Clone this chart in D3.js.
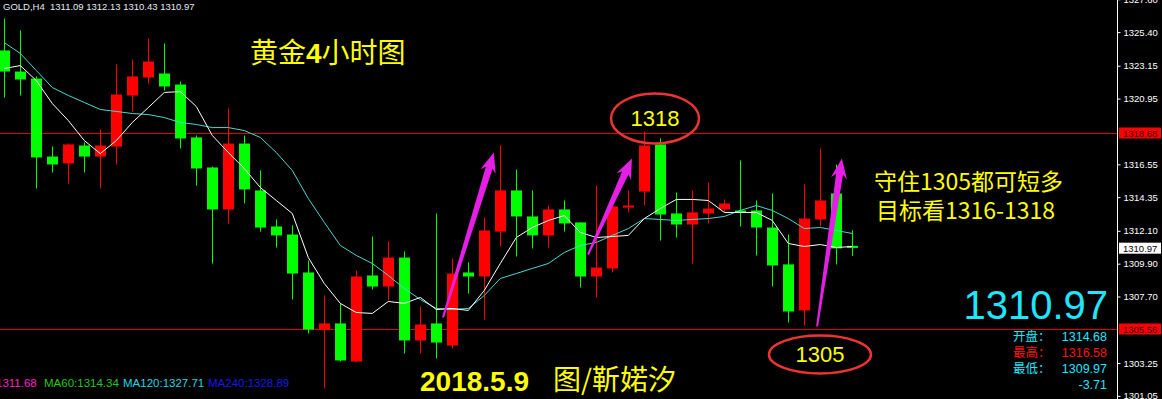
<!DOCTYPE html>
<html>
<head>
<meta charset="utf-8">
<script src="https://cdn.jsdelivr.net/npm/d3@7.9.0/dist/d3.min.js"></script>
<style>
  html, body { margin: 0; padding: 0; background: #000; }
  svg { display: block; }
  text { font-family: "Liberation Sans", Arial, sans-serif; }
  .cjk { font-family: "Noto Sans CJK SC", sans-serif; }
</style>
</head>
<body>
<svg id="chart" width="1162" height="399"></svg>
<script>
// candle data (open / high / low / close)
const opens = [1324.17,1322.76,1322.29,1317.07,1316.61,1317.81,1317.07,1317.74,1321.16,1322.36,
  1322.63,1321.89,1318.35,1316.34,1313.53,1317.94,1314.80,1312.39,1311.85,1309.31,
  1305.49,1305.90,1303.35,1309.11,1308.37,1310.31,1304.76,1305.90,1304.42,1309.31,
  1309.04,1312.05,1314.80,1313.06,1311.79,1313.53,1312.66,1309.04,1309.58,1313.66,
  1314.73,1317.88,1313.26,1312.52,1313.26,1313.53,1313.46,1313.46,1312.32,1309.85,
  1306.77,1312.86,1314.60,1311.09];
const highs = [1326.31,1325.51,1322.43,1317.74,1317.94,1318.01,1318.88,1323.23,1323.57,1324.97,
  1324.64,1322.09,1318.48,1316.40,1320.29,1318.48,1316.14,1312.86,1312.46,1310.11,
  1307.77,1307.24,1309.44,1311.72,1311.38,1310.72,1307.03,1313.26,1310.25,1309.98,
  1312.99,1317.81,1316.20,1314.80,1313.79,1314.13,1312.66,1315.13,1313.73,1314.80,
  1318.75,1318.28,1314.66,1314.80,1315.33,1314.20,1316.81,1314.13,1314.60,1311.85,
  1315.20,1317.61,1316.54,1312.13];
const lows = [1321.02,1321.16,1314.93,1316.00,1315.27,1316.00,1314.93,1316.54,1320.09,1321.96,
  1321.49,1317.61,1315.13,1309.91,1312.59,1313.93,1312.05,1310.98,1307.50,1305.23,
  1301.55,1303.35,1303.30,1308.17,1307.44,1303.89,1303.89,1303.55,1304.22,1307.90,
  1306.16,1311.05,1310.38,1310.92,1310.98,1312.05,1308.31,1307.64,1309.31,1313.33,
  1313.79,1311.45,1311.65,1309.91,1312.59,1313.33,1312.39,1310.45,1308.37,1305.96,
  1305.76,1312.39,1309.85,1310.43];
const closes = [1322.76,1322.23,1317.01,1316.54,1317.88,1317.07,1317.81,1321.22,1322.43,1323.43,
  1321.76,1318.28,1316.27,1313.53,1317.94,1314.87,1312.32,1311.79,1309.24,1305.49,
  1305.90,1303.42,1309.04,1308.37,1310.31,1304.76,1305.83,1304.62,1309.24,1309.04,
  1312.12,1314.80,1313.06,1311.79,1313.53,1312.59,1309.04,1309.64,1313.73,1313.79,
  1317.81,1313.19,1312.52,1313.33,1313.59,1313.93,1313.33,1312.32,1309.78,1306.70,
  1312.92,1314.13,1310.92,1310.97];

// moving averages
const maFast = [1322.96,1323.16,1322.16,1320.62,1319.48,1318.14,1317.27,1318.14,1319.35,1320.35,
  1321.36,1321.42,1320.42,1318.48,1317.34,1316.27,1315.00,1314.13,1313.26,1310.31,
  1308.57,1307.24,1306.63,1306.57,1307.37,1307.24,1307.64,1306.83,1306.90,1306.77,
  1308.11,1309.91,1311.65,1312.32,1312.79,1313.12,1311.99,1311.65,1311.72,1311.79,
  1312.92,1313.59,1314.20,1314.20,1314.13,1313.33,1313.33,1313.33,1312.79,1311.25,
  1311.05,1311.18,1310.98,1311.05];
const maSlow = [1324.70,1323.97,1322.83,1321.69,1321.16,1320.69,1320.22,1320.09,1319.95,1319.88,
  1319.68,1319.35,1319.22,1319.01,1319.01,1318.81,1318.35,1317.34,1316.14,1314.26,
  1312.66,1311.12,1310.45,1309.91,1309.11,1308.24,1307.50,1306.90,1306.83,1306.90,
  1307.77,1308.91,1309.24,1309.58,1309.91,1310.65,1311.12,1311.32,1311.79,1312.25,
  1312.92,1312.86,1312.79,1312.86,1312.92,1313.06,1313.46,1313.79,1313.46,1312.92,
  1312.25,1312.32,1312.12,1311.92];

const axisTicks = [1327.60,1325.40,1323.15,1320.95,1316.55,1314.35,1312.10,1309.90,1307.70,1303.25,1301.05];
const levelLines = [1318.68, 1305.56];
const lastPrice = 1310.97;

// annotations in data units: [index, price]
const arrows = [
  [[27.42, 1306.30], [30.60, 1317.34]],
  [[36.48, 1310.51], [39.23, 1316.94]],
  [[50.80, 1305.70], [52.35, 1316.94]]
];
const circles = [
  {label: "1318", at: [40.67, 1319.62], rx: 44, ry: 25},
  {label: "1305", at: [50.98, 1303.82], rx: 51, ry: 19}
];

const W = 1162, H = 399, axisX = 1117;
const svg = d3.select("#chart");
svg.append("rect").attr("width", W).attr("height", H).attr("fill", "#000");

const x = d3.scaleLinear().domain([0, opens.length - 1]).range([4.3, 4.3 + 16 * (opens.length - 1)]);
const y = d3.scaleLinear().domain([1305.56, 1318.68]).range([328.5, 132.5]);

const candles = opens.map((o, i) => ({i, o, h: highs[i], l: lows[i], c: closes[i]}));

// level lines
svg.selectAll(".level").data(levelLines).join("line")
  .attr("x1", 0).attr("x2", axisX)
  .attr("y1", d => Math.round(y(d)) + 0.5).attr("y2", d => Math.round(y(d)) + 0.5)
  .attr("stroke", "#e00000").attr("stroke-width", 1);

// candles
const g = svg.append("g");
g.selectAll(".wick").data(candles).join("line")
  .attr("x1", d => Math.round(x(d.i)) + 0.5).attr("x2", d => Math.round(x(d.i)) + 0.5)
  .attr("y1", d => y(d.h)).attr("y2", d => y(d.l))
  .attr("stroke", d => d.c >= d.o ? "#ff0000" : "#00ff00");
g.selectAll(".body").data(candles).join("rect")
  .attr("x", d => Math.round(x(d.i)) - 5)
  .attr("width", 11)
  .attr("y", d => y(Math.max(d.o, d.c)))
  .attr("height", d => Math.max(2, y(Math.min(d.o, d.c)) - y(Math.max(d.o, d.c))))
  .attr("fill", d => d.c >= d.o ? "#ff0000" : "#00ff00");

// moving averages
const lineGen = d3.line().x((d, i) => x(i)).y(d => y(d));
svg.append("path").attr("d", lineGen(maSlow)).attr("fill", "none").attr("stroke", "#48d8d0").attr("stroke-width", 1);
svg.append("path").attr("d", lineGen(maFast)).attr("fill", "none").attr("stroke", "#ffffff").attr("stroke-width", 1);

// arrows
function arrowPath(a) {
  const t = [x(a[0][0]), y(a[0][1])], p = [x(a[1][0]), y(a[1][1])];
  const dx = p[0] - t[0], dy = p[1] - t[1], len = Math.hypot(dx, dy);
  const ux = dx / len, uy = dy / len, nx = -uy, ny = ux;
  const b = [p[0] - ux * 20, p[1] - uy * 20];
  const bb = [p[0] - ux * 16, p[1] - uy * 16];
  const pts = [
    [t[0] + nx * 1, t[1] + ny * 1],
    [bb[0] + nx * 3.5, bb[1] + ny * 3.5],
    [b[0] + nx * 8, b[1] + ny * 8],
    p,
    [b[0] - nx * 8, b[1] - ny * 8],
    [bb[0] - nx * 3.5, bb[1] - ny * 3.5],
    [t[0] - nx * 1, t[1] - ny * 1]
  ];
  return "M" + pts.map(q => q.join(",")).join("L") + "Z";
}
svg.selectAll(".arrow").data(arrows).join("path")
  .attr("d", arrowPath).attr("fill", "#e61fe6");

// circled levels
const circ = svg.selectAll(".circ").data(circles).join("g");
circ.append("ellipse")
  .attr("cx", d => x(d.at[0])).attr("cy", d => y(d.at[1]))
  .attr("rx", d => d.rx).attr("ry", d => d.ry)
  .attr("fill", "none").attr("stroke", "#ee3333").attr("stroke-width", 2.5);
circ.append("text")
  .attr("x", d => x(d.at[0])).attr("y", d => y(d.at[1]) + 8)
  .attr("text-anchor", "middle").attr("fill", "#ffff00")
  .attr("font-size", 22).style("font-family", "'Liberation Sans Narrow', 'Liberation Sans', sans-serif")
  .text(d => d.label);

// right axis
const axis = d3.axisRight(y).tickValues(axisTicks).tickFormat(d3.format(".2f")).tickSize(3).tickPadding(3);
const ax = svg.append("g").attr("transform", `translate(${axisX + 0.5},0)`).call(axis);
ax.select(".domain").remove();
ax.selectAll("line").attr("stroke", "#fff");
ax.selectAll("text").attr("fill", "#fff").attr("font-size", 9.5);
svg.append("line").attr("x1", axisX + 0.5).attr("x2", axisX + 0.5).attr("y1", 0).attr("y2", H).attr("stroke", "#fff");

const tags = levelLines.map(v => ({v, bg: "#ff0000", fg: "#300000"})).concat([{v: lastPrice, bg: "#ffffff", fg: "#000"}]);
const tag = svg.selectAll(".tag").data(tags).join("g");
tag.append("rect").attr("x", axisX + 2).attr("width", 42).attr("y", d => y(d.v) - 5).attr("height", 11).attr("fill", d => d.bg);
tag.append("text").attr("x", axisX + 6).attr("y", d => y(d.v) + 4).attr("font-size", 9.5).attr("fill", d => d.fg)
  .text(d => d3.format(".2f")(d.v));

// header
svg.append("text").attr("x", 3).attr("y", 10).attr("font-size", 9.5).attr("fill", "#e4ecf6")
  .style("white-space", "pre").text("GOLD,H4  1311.09 1312.13 1310.43 1310.97");

// titles and notes
const title = svg.append("text").attr("class", "cjk").attr("x", 250).attr("y", 63).attr("font-size", 28).attr("fill", "#ffff00");
title.append("tspan").text("黄金");
title.append("tspan").attr("font-weight", "bold").style("font-family", "'Liberation Sans', sans-serif").text("4");
title.append("tspan").text("小时图");
svg.append("text").attr("class", "cjk").attr("x", 874).attr("y", 190).attr("font-size", 23).attr("fill", "#ffff00")
  .text("守住1305都可短多");
svg.append("text").attr("class", "cjk").attr("x", 876).attr("y", 219).attr("font-size", 23).attr("fill", "#ffff00")
  .text("目标看1316-1318");
svg.append("text").attr("x", 420).attr("y", 391).attr("font-size", 28).attr("font-weight", "bold").attr("fill", "#ffff00")
  .text("2018.5.9");
svg.append("text").attr("class", "cjk").attr("x", 553).attr("y", 390).attr("font-size", 28).attr("fill", "#ffff00")
  .text("图/靳婼汐");

// price panel
svg.append("text").attr("x", 1108).attr("y", 319).attr("text-anchor", "end").attr("font-size", 40).attr("fill", "#1ee6ff")
  .text("1310.97");
const info = [
  {k: "开盘：", v: "1314.68", c: "#1ee6ff"},
  {k: "最高：", v: "1316.58", c: "#ff1010"},
  {k: "最低：", v: "1309.97", c: "#1ee6ff"},
  {k: "", v: "-3.71", c: "#1ee6ff"}
];
const row = svg.selectAll(".info").data(info).join("g").attr("transform", (d, i) => `translate(0,${341 + i * 16})`);
row.append("text").attr("class", "cjk").attr("x", 1013).attr("font-size", 12.5).attr("fill", d => d.c).text(d => d.k);
row.append("text").attr("x", 1107).attr("text-anchor", "end").attr("font-size", 12.5).attr("fill", d => d.c).text(d => d.v);

// indicator legend
const legend = [
  {t: "1311.68", c: "#ff20c0", x: -4},
  {t: "MA60:1314.34", c: "#20c820", x: 44},
  {t: "MA120:1327.71", c: "#20d8e0", x: 123},
  {t: "MA240:1328.89", c: "#1818e8", x: 208}
];
svg.selectAll(".leg").data(legend).join("text")
  .attr("x", d => d.x).attr("y", 387).attr("font-size", 11.5).attr("fill", d => d.c).text(d => d.t);
</script>
</body>
</html>
